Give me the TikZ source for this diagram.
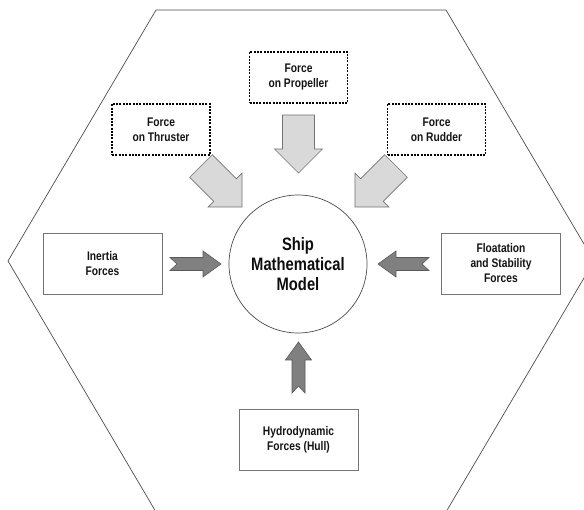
\documentclass[tikz,border=0pt]{standalone}
\usepackage{fontspec}
\setmainfont{Liberation Sans}[FakeStretch=0.82]
\begin{document}
\begin{tikzpicture}[x=1pt,y=-1pt,
  hexline/.style={draw=black!70, line width=0.7pt},
  solidbox/.style={draw=black!55, line width=0.8pt, fill=white, minimum width=119pt, minimum height=61pt,
    align=center, inner sep=0pt, text=black!92, font=\fontsize{12.5}{15}\selectfont\bfseries},
  dotbox/.style={draw=black, line width=1.1pt, dash pattern=on 2pt off 1.3pt, minimum width=98pt, minimum height=51pt,
    align=center, inner sep=0pt, text=black!92, font=\fontsize{12.5}{15}\selectfont\bfseries},
  modelnode/.style={circle, draw=black!70, line width=0.7pt, minimum size=138pt, align=center, inner sep=0pt,
    text=black!95, font=\fontsize{18}{20}\selectfont\bfseries},
  lightfill/.style={draw=black!55, line width=0.6pt, fill=black!15},
  darkfill/.style={draw=black!65, line width=0.6pt, fill=black!50},
  lightarrow/.pic={\draw[lightfill] (0,-16) -- (34,-16) -- (34,-24) -- (58,0) -- (34,24) -- (34,16) -- (0,16) -- cycle;},
  darkarrow/.pic={\draw[darkfill] (0,-6.5) -- (33,-6.5) -- (33,-13) -- (51,0) -- (33,13) -- (33,6.5) -- (0,6.5) -- (7,0) -- cycle;}
]
\useasboundingbox (0,0) rectangle (584,510);
\draw[hexline] (156,10) -- (446,10) -- (594,261) -- (446,512) -- (156,512) -- (8,261) -- cycle;

\node[modelnode] (model) at (298,264) {Ship\\Mathematical\\Model};

\node[dotbox] (prop) at (298.5,77.5) {Force\\on Propeller};
\node[dotbox] (thr) at (161,129.5) {Force\\on Thruster};
\node[dotbox] (rud) at (436.5,129.5) {Force\\on Rudder};

\node[solidbox] (inertia) at (102.5,263.5) {Inertia\\Forces};
\node[solidbox] (float) at (501,263.5) {Floatation\\and Stability\\Forces};
\node[solidbox] (hull) at (298.5,439.5) {Hydrodynamic\\Forces (Hull)};

\coordinate (propT) at (298.5,115);
\coordinate (thrT) at (201,166);
\coordinate (rudT) at (396,166);
\coordinate (inT) at (170,264);
\coordinate (flT) at (429,264);
\coordinate (huT) at (298.5,393);

\pic[rotate=-90] at (propT) {lightarrow};
\pic[rotate=-45] at (thrT) {lightarrow};
\pic[rotate=-135] at (rudT) {lightarrow};
\pic at (inT) {darkarrow};
\pic[rotate=180] at (flT) {darkarrow};
\pic[rotate=90] at (huT) {darkarrow};
\end{tikzpicture}
\end{document}
